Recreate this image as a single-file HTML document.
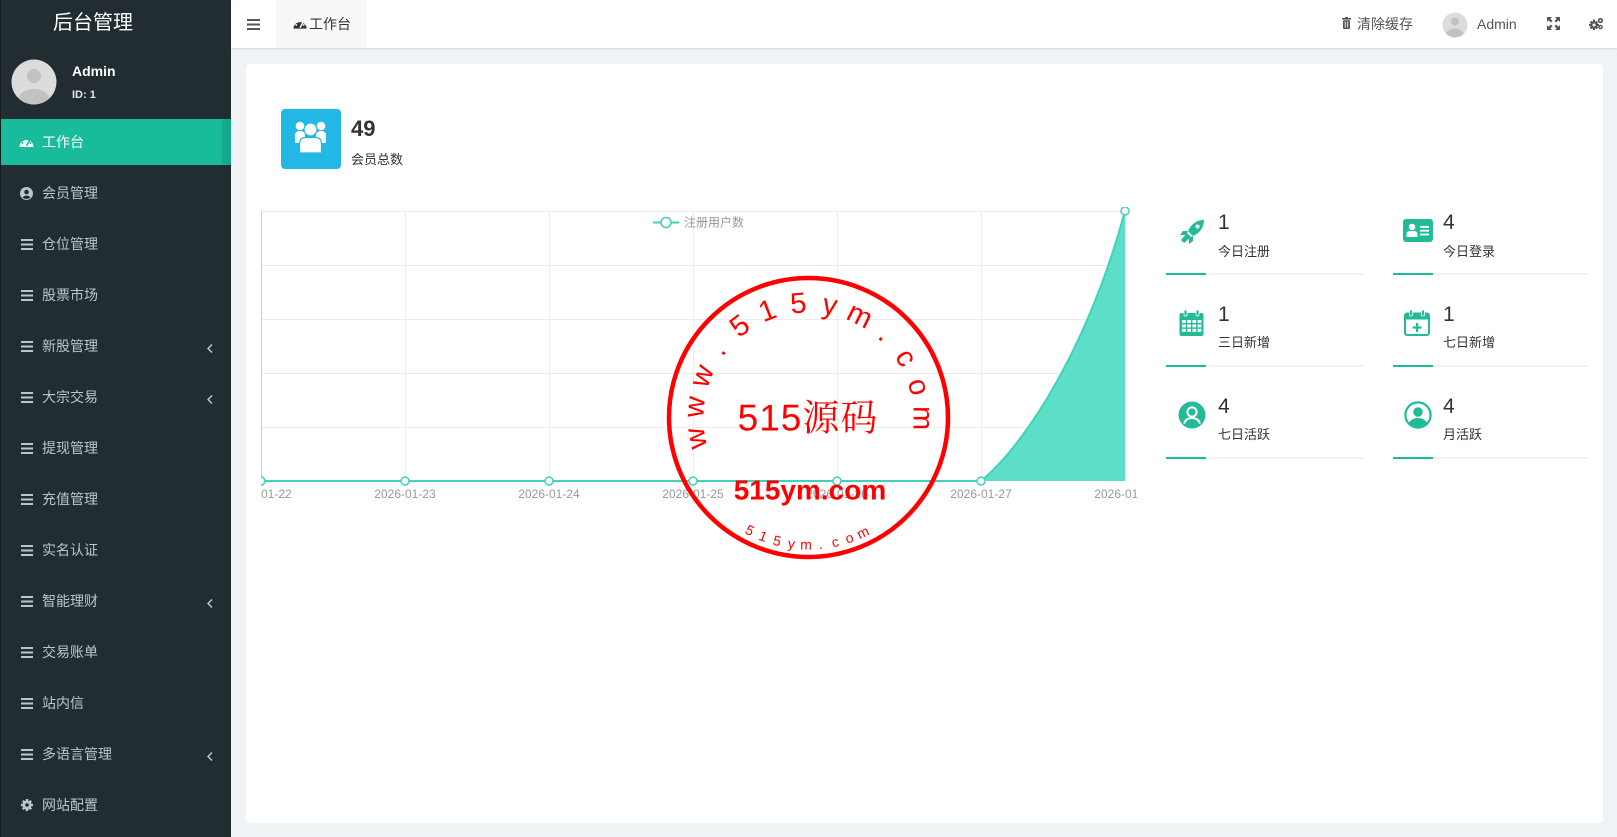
<!DOCTYPE html>
<html><head><meta charset="utf-8">
<style>
*{margin:0;padding:0;box-sizing:border-box}
body{width:1617px;height:837px;overflow:hidden;background:#f0f3f5;font-family:"Liberation Sans","Noto Sans CJK SC",sans-serif;position:relative}
.sb{position:absolute;left:0;top:0;width:231px;height:837px;background:#222d32;border-left:1px solid #161c20}
.logo{position:absolute;left:52px;top:10px;font-size:20px;color:#fff;line-height:26px;white-space:nowrap}
.uname{position:absolute;left:71px;top:62px;font-size:14px;font-weight:bold;color:#fff;line-height:18px}
.uid{position:absolute;left:71px;top:88px;font-size:11px;font-weight:bold;color:#e6e6e6;line-height:14px}
.mi{position:absolute;left:0;width:230px;height:46px;color:#b8c7ce;font-size:14px}
.mi span{position:absolute;left:41px;top:0;line-height:46px;white-space:nowrap}
.mi svg{position:absolute}
.act{background:#18bc9c;color:#fff}
.act .strip{position:absolute;left:221px;top:0;width:9px;height:46px;background:#17a98c}
.hd{position:absolute;left:231px;top:0;width:1386px;height:48px;background:#fff;box-shadow:0 1px 2px rgba(0,0,0,.13)}
.ab{position:absolute;white-space:nowrap}
.card{position:absolute;left:246px;top:64px;width:1357px;height:759px;background:#fff;border-radius:4px}
.num{position:absolute;font-size:21px;color:#333;line-height:24px}
.lbl{position:absolute;font-size:13px;color:#333;line-height:18px;white-space:nowrap}
.ul{position:absolute;height:2px;background:#f2f2f2}
.ul i{position:absolute;left:0;top:0;width:40px;height:2px;background:#1abc9c}
</style></head>
<body>
<div class="sb">
  <div class="logo">后台管理</div>
  <svg class="ab" style="left:10px;top:59px" width="46" height="46" viewBox="0 0 46 46">
    <defs><clipPath id="avc"><circle cx="23" cy="23" r="22.5"/></clipPath></defs>
    <circle cx="23" cy="23" r="22.5" fill="#dcdcdc"/>
    <g clip-path="url(#avc)"><circle cx="23" cy="17" r="7" fill="#c2c2c2"/><ellipse cx="23" cy="41" rx="16" ry="11" fill="#c2c2c2"/></g>
  </svg>
  <div class="uname">Admin</div>
  <div class="uid">ID: 1</div>

  <div class="mi act" style="top:119px">
    <svg style="left:18px;top:17px" width="15" height="12" viewBox="0 0 15 12"><path d="M0.5,11 A7,7 0 1 1 14.5,11 Z" fill="#fff"/><path d="M7.5,10 L10.5,4.5" stroke="#18bc9c" stroke-width="1.6"/><circle cx="3.5" cy="7" r="1" fill="#18bc9c"/><circle cx="4.5" cy="4" r="1" fill="#18bc9c"/><circle cx="7.5" cy="2.8" r="1" fill="#18bc9c"/><circle cx="11.5" cy="7" r="1" fill="#18bc9c"/></svg>
    <span>工作台</span><div class="strip"></div>
  </div>
  <div class="mi" style="top:170px">
    <svg style="left:19px;top:17px" width="13" height="13" viewBox="0 0 13 13"><circle cx="6.5" cy="6.5" r="6.5" fill="#b8c7ce"/><circle cx="6.5" cy="5" r="2.3" fill="#222d32"/><path d="M2.5,10.5 Q6.5,6.5 10.5,10.5 Q6.5,13.5 2.5,10.5Z" fill="#222d32"/></svg>
    <span>会员管理</span>
  </div>
  <div class="mi" style="top:221px"><svg style="left:20px;top:18px" width="12" height="11"><rect y="0" width="12" height="2" fill="#b8c7ce"/><rect y="4.5" width="12" height="2" fill="#b8c7ce"/><rect y="9" width="12" height="2" fill="#b8c7ce"/></svg><span>仓位管理</span></div>
  <div class="mi" style="top:272px"><svg style="left:20px;top:18px" width="12" height="11"><rect y="0" width="12" height="2" fill="#b8c7ce"/><rect y="4.5" width="12" height="2" fill="#b8c7ce"/><rect y="9" width="12" height="2" fill="#b8c7ce"/></svg><span>股票市场</span></div>
  <div class="mi" style="top:323px"><svg style="left:20px;top:18px" width="12" height="11"><rect y="0" width="12" height="2" fill="#b8c7ce"/><rect y="4.5" width="12" height="2" fill="#b8c7ce"/><rect y="9" width="12" height="2" fill="#b8c7ce"/></svg><span>新股管理</span><svg style="left:206px;top:21px" width="6" height="9"><polyline points="5,0.5 1,4.5 5,8.5" fill="none" stroke="#b8c7ce" stroke-width="1.5"/></svg></div>
  <div class="mi" style="top:374px"><svg style="left:20px;top:18px" width="12" height="11"><rect y="0" width="12" height="2" fill="#b8c7ce"/><rect y="4.5" width="12" height="2" fill="#b8c7ce"/><rect y="9" width="12" height="2" fill="#b8c7ce"/></svg><span>大宗交易</span><svg style="left:206px;top:21px" width="6" height="9"><polyline points="5,0.5 1,4.5 5,8.5" fill="none" stroke="#b8c7ce" stroke-width="1.5"/></svg></div>
  <div class="mi" style="top:425px"><svg style="left:20px;top:18px" width="12" height="11"><rect y="0" width="12" height="2" fill="#b8c7ce"/><rect y="4.5" width="12" height="2" fill="#b8c7ce"/><rect y="9" width="12" height="2" fill="#b8c7ce"/></svg><span>提现管理</span></div>
  <div class="mi" style="top:476px"><svg style="left:20px;top:18px" width="12" height="11"><rect y="0" width="12" height="2" fill="#b8c7ce"/><rect y="4.5" width="12" height="2" fill="#b8c7ce"/><rect y="9" width="12" height="2" fill="#b8c7ce"/></svg><span>充值管理</span></div>
  <div class="mi" style="top:527px"><svg style="left:20px;top:18px" width="12" height="11"><rect y="0" width="12" height="2" fill="#b8c7ce"/><rect y="4.5" width="12" height="2" fill="#b8c7ce"/><rect y="9" width="12" height="2" fill="#b8c7ce"/></svg><span>实名认证</span></div>
  <div class="mi" style="top:578px"><svg style="left:20px;top:18px" width="12" height="11"><rect y="0" width="12" height="2" fill="#b8c7ce"/><rect y="4.5" width="12" height="2" fill="#b8c7ce"/><rect y="9" width="12" height="2" fill="#b8c7ce"/></svg><span>智能理财</span><svg style="left:206px;top:21px" width="6" height="9"><polyline points="5,0.5 1,4.5 5,8.5" fill="none" stroke="#b8c7ce" stroke-width="1.5"/></svg></div>
  <div class="mi" style="top:629px"><svg style="left:20px;top:18px" width="12" height="11"><rect y="0" width="12" height="2" fill="#b8c7ce"/><rect y="4.5" width="12" height="2" fill="#b8c7ce"/><rect y="9" width="12" height="2" fill="#b8c7ce"/></svg><span>交易账单</span></div>
  <div class="mi" style="top:680px"><svg style="left:20px;top:18px" width="12" height="11"><rect y="0" width="12" height="2" fill="#b8c7ce"/><rect y="4.5" width="12" height="2" fill="#b8c7ce"/><rect y="9" width="12" height="2" fill="#b8c7ce"/></svg><span>站内信</span></div>
  <div class="mi" style="top:731px"><svg style="left:20px;top:18px" width="12" height="11"><rect y="0" width="12" height="2" fill="#b8c7ce"/><rect y="4.5" width="12" height="2" fill="#b8c7ce"/><rect y="9" width="12" height="2" fill="#b8c7ce"/></svg><span>多语言管理</span><svg style="left:206px;top:21px" width="6" height="9"><polyline points="5,0.5 1,4.5 5,8.5" fill="none" stroke="#b8c7ce" stroke-width="1.5"/></svg></div>
  <div class="mi" style="top:782px">
    <svg style="left:20px;top:17px" width="12" height="12" viewBox="0 0 12 12"><circle cx="6" cy="6" r="4.6" fill="#b8c7ce"/><g stroke="#b8c7ce" stroke-width="2.4"><line x1="6" y1="0" x2="6" y2="12"/><line x1="0" y1="6" x2="12" y2="6"/><line x1="1.8" y1="1.8" x2="10.2" y2="10.2"/><line x1="10.2" y1="1.8" x2="1.8" y2="10.2"/></g><circle cx="6" cy="6" r="1.8" fill="#222d32"/></svg>
    <span>网站配置</span>
  </div>
</div>

<div class="hd"></div>
<svg class="ab" style="left:247px;top:19px" width="13" height="11"><rect y="0" width="13" height="2" fill="#555"/><rect y="4.5" width="13" height="2" fill="#555"/><rect y="9" width="13" height="2" fill="#555"/></svg>
<div class="ab" style="left:276px;top:0;width:91px;height:48px;background:#f8f8f8"></div>
<svg class="ab" style="left:293px;top:18px" width="14" height="12" viewBox="0 0 15 12"><path d="M0.5,11 A7,7 0 1 1 14.5,11 Z" fill="#333"/><path d="M7.5,10 L10.5,4.5" stroke="#f8f8f8" stroke-width="1.6"/><circle cx="3.5" cy="7" r="1" fill="#f8f8f8"/><circle cx="4.5" cy="4" r="1" fill="#f8f8f8"/><circle cx="7.5" cy="2.8" r="1" fill="#f8f8f8"/><circle cx="11.5" cy="7" r="1" fill="#f8f8f8"/></svg>
<div class="ab" style="left:309px;top:15px;font-size:14px;color:#333;line-height:18px">工作台</div>

<svg class="ab" style="left:1342px;top:17px" width="9" height="12" viewBox="0 0 9 12"><rect x="0" y="1" width="9" height="1.6" fill="#555"/><rect x="3" y="0" width="3" height="1.5" fill="#555"/><rect x="1" y="3.2" width="7" height="8.8" rx="1" fill="#555"/><rect x="2.8" y="4.5" width="0.9" height="6" fill="#fff"/><rect x="5.3" y="4.5" width="0.9" height="6" fill="#fff"/></svg>
<div class="ab" style="left:1357px;top:15px;font-size:14px;color:#555;line-height:18px">清除缓存</div>
<svg class="ab" style="left:1442px;top:12px" width="26" height="26" viewBox="0 0 26 26"><defs><clipPath id="avc2"><circle cx="13" cy="13" r="12.5"/></clipPath></defs><circle cx="13" cy="13" r="12.5" fill="#dcdcdc"/><g clip-path="url(#avc2)"><circle cx="13" cy="9.5" r="4" fill="#c2c2c2"/><ellipse cx="13" cy="23" rx="9" ry="6.5" fill="#c2c2c2"/></g></svg>
<div class="ab" style="left:1477px;top:15px;font-size:14px;color:#555;line-height:18px">Admin</div>
<svg class="ab" style="left:1547px;top:17px" width="13" height="13" viewBox="0 0 13 13"><g fill="#555"><path d="M0,0 L5,0 L3.3,1.7 L5.5,3.9 L3.9,5.5 L1.7,3.3 L0,5Z"/><path d="M13,0 L8,0 L9.7,1.7 L7.5,3.9 L9.1,5.5 L11.3,3.3 L13,5Z"/><path d="M0,13 L5,13 L3.3,11.3 L5.5,9.1 L3.9,7.5 L1.7,9.7 L0,8Z"/><path d="M13,13 L8,13 L9.7,11.3 L7.5,9.1 L9.1,7.5 L11.3,9.7 L13,8Z"/></g></svg>
<svg class="ab" style="left:1589px;top:17px" width="15" height="13" viewBox="0 0 15 13"><g fill="#555"><circle cx="5" cy="8" r="3.8"/><g stroke="#555" stroke-width="2"><line x1="5" y1="2.5" x2="5" y2="13"/><line x1="0" y1="8" x2="10" y2="8"/><line x1="1.5" y1="4.5" x2="8.5" y2="11.5"/><line x1="8.5" y1="4.5" x2="1.5" y2="11.5"/></g><circle cx="11.5" cy="3.5" r="2.6"/><circle cx="11.5" cy="10" r="2.3"/></g><circle cx="5" cy="8" r="1.5" fill="#fff"/><circle cx="11.5" cy="3.5" r="1" fill="#fff"/><circle cx="11.5" cy="10" r="0.9" fill="#fff"/></svg>

<div class="card"></div>

<div class="ab" style="left:281px;top:109px;width:60px;height:60px;background:#23b7e5;border-radius:4px"></div>
<svg class="ab" style="left:281px;top:109px" width="60" height="60" viewBox="0 0 60 60">
  <g fill="#fff">
    <circle cx="19" cy="17" r="4.3"/><circle cx="40" cy="17" r="4.3"/>
    <path d="M14,34 L14,26 Q14,22 19,22 Q24,22 24,26 L24,34Z"/>
    <path d="M35,34 L35,26 Q35,22 40,22 Q45,22 45,26 L45,34Z"/>
  </g>
  <circle cx="29.5" cy="20.5" r="6.5" fill="#fff" stroke="#23b7e5" stroke-width="1.2"/>
  <path d="M18.5,44 L18.5,35 Q18.5,28.5 24.5,28.5 L34.5,28.5 Q40.5,28.5 40.5,35 L40.5,44 Z" fill="#fff" stroke="#23b7e5" stroke-width="1.2"/>
</svg>
<div class="ab" style="left:351px;top:116px;font-size:22px;font-weight:bold;color:#333;line-height:26px">49</div>
<div class="ab" style="left:351px;top:151px;font-size:13px;color:#333;line-height:18px">会员总数</div>

<svg class="ab" style="left:1180px;top:219px" width="25" height="25" viewBox="0 0 25 25">
  <g fill="#22bb98">
    <path d="M24,1 C17,1 11,5 8,12 L13,17 C20,14 24,8 24,1Z"/>
    <path d="M8,12 L3,12 L0,16 L6,16Z"/>
    <path d="M13,17 L13,22 L9,25 L9,19Z"/>
    <path d="M7,14 L11,18 L4,24 L1,21Z"/>
  </g>
  <circle cx="17.5" cy="7.5" r="2" fill="#fff"/>
</svg>
<div class="num" style="left:1218px;top:211px">1</div>
<div class="lbl" style="left:1218px;top:243px">今日注册</div>
<div class="ul" style="left:1166px;top:273px;width:197px"><i></i></div>

<svg class="ab" style="left:1403px;top:219px" width="30" height="23" viewBox="0 0 30 23">
  <rect x="0" y="0" width="30" height="23" rx="3" fill="#22bb98"/>
  <circle cx="9" cy="8" r="3.3" fill="#fff"/>
  <path d="M3.5,18 L3.5,15 Q3.5,12 7,12 L11,12 Q14.5,12 14.5,15 L14.5,18Z" fill="#fff"/>
  <rect x="17" y="7" width="9" height="1.8" fill="#fff"/><rect x="17" y="10.8" width="9" height="1.8" fill="#fff"/><rect x="17" y="14.6" width="9" height="1.8" fill="#fff"/>
</svg>
<div class="num" style="left:1443px;top:211px">4</div>
<div class="lbl" style="left:1443px;top:243px">今日登录</div>
<div class="ul" style="left:1393px;top:273px;width:196px"><i></i></div>

<svg class="ab" style="left:1179px;top:310px" width="25" height="26" viewBox="0 0 25 26">
  <rect x="0.5" y="3" width="24" height="23" rx="2" fill="#22bb98"/>
  <rect x="5" y="0" width="3" height="6" rx="1" fill="#22bb98" stroke="#fff" stroke-width="0.8"/>
  <rect x="17" y="0" width="3" height="6" rx="1" fill="#22bb98" stroke="#fff" stroke-width="0.8"/>
  <g fill="#fff">
    <rect x="3" y="10" width="3.8" height="3"/><rect x="8.2" y="10" width="3.8" height="3"/><rect x="13.4" y="10" width="3.8" height="3"/><rect x="18.6" y="10" width="3.8" height="3"/>
    <rect x="3" y="14.4" width="3.8" height="3"/><rect x="8.2" y="14.4" width="3.8" height="3"/><rect x="13.4" y="14.4" width="3.8" height="3"/><rect x="18.6" y="14.4" width="3.8" height="3"/>
    <rect x="3" y="18.8" width="3.8" height="3"/><rect x="8.2" y="18.8" width="3.8" height="3"/><rect x="13.4" y="18.8" width="3.8" height="3"/><rect x="18.6" y="18.8" width="3.8" height="3"/>
  </g>
</svg>
<div class="num" style="left:1218px;top:303px">1</div>
<div class="lbl" style="left:1218px;top:334px">三日新增</div>
<div class="ul" style="left:1166px;top:365px;width:197px"><i></i></div>

<svg class="ab" style="left:1404px;top:310px" width="26" height="26" viewBox="0 0 26 26">
  <rect x="1" y="3.5" width="24" height="21.5" rx="2" fill="none" stroke="#22bb98" stroke-width="2"/>
  <rect x="1" y="3.5" width="24" height="6" fill="#22bb98"/>
  <rect x="5.5" y="0" width="3" height="6" rx="1" fill="#22bb98" stroke="#fff" stroke-width="0.8"/>
  <rect x="17.5" y="0" width="3" height="6" rx="1" fill="#22bb98" stroke="#fff" stroke-width="0.8"/>
  <rect x="12" y="13" width="2.2" height="9" fill="#22bb98"/><rect x="8.6" y="16.4" width="9" height="2.2" fill="#22bb98"/>
</svg>
<div class="num" style="left:1443px;top:303px">1</div>
<div class="lbl" style="left:1443px;top:334px">七日新增</div>
<div class="ul" style="left:1393px;top:365px;width:196px"><i></i></div>

<svg class="ab" style="left:1178px;top:401px" width="28" height="28" viewBox="0 0 28 28">
  <circle cx="14" cy="14" r="13.5" fill="#22bb98"/>
  <circle cx="14" cy="11" r="4.6" fill="none" stroke="#fff" stroke-width="2"/>
  <path d="M6,22.5 Q8,17 14,17 Q20,17 22,22.5" fill="none" stroke="#fff" stroke-width="2"/>
</svg>
<div class="num" style="left:1218px;top:395px">4</div>
<div class="lbl" style="left:1218px;top:426px">七日活跃</div>
<div class="ul" style="left:1166px;top:457px;width:197px"><i></i></div>

<svg class="ab" style="left:1404px;top:401px" width="28" height="28" viewBox="0 0 28 28">
  <defs><clipPath id="uc"><circle cx="14" cy="14" r="12"/></clipPath></defs>
  <circle cx="14" cy="14" r="12.6" fill="none" stroke="#22bb98" stroke-width="2.2"/>
  <g clip-path="url(#uc)" fill="#22bb98"><circle cx="14" cy="11" r="4.8"/><ellipse cx="14" cy="25" rx="10" ry="8"/></g>
</svg>
<div class="num" style="left:1443px;top:395px">4</div>
<div class="lbl" style="left:1443px;top:426px">月活跃</div>
<div class="ul" style="left:1393px;top:457px;width:196px"><i></i></div>

<svg class="ab" style="left:0;top:0" width="1617" height="837" viewBox="0 0 1617 837">
  <defs><clipPath id="cc"><rect x="261" y="207" width="876" height="310"/></clipPath></defs>
  <g clip-path="url(#cc)">
    <g stroke="#ececec" stroke-width="1">
      <line x1="261" y1="211.5" x2="1126" y2="211.5"/>
      <line x1="261" y1="265.5" x2="1126" y2="265.5"/>
      <line x1="261" y1="319.5" x2="1126" y2="319.5"/>
      <line x1="261" y1="373.5" x2="1126" y2="373.5"/>
      <line x1="261" y1="427.5" x2="1126" y2="427.5"/>
      <line x1="405.5" y1="211" x2="405.5" y2="481"/>
      <line x1="549.5" y1="211" x2="549.5" y2="481"/>
      <line x1="693.5" y1="211" x2="693.5" y2="481"/>
      <line x1="837.5" y1="211" x2="837.5" y2="481"/>
      <line x1="981.5" y1="211" x2="981.5" y2="481"/>
      <line x1="1125.5" y1="211" x2="1125.5" y2="481"/>
    </g>
    <line x1="261.5" y1="211" x2="261.5" y2="481" stroke="#ccc"/>
    <path d="M981,481 C1030,440 1090,340 1125,211 L1125,481 Z" fill="#5cdec8"/>
    <path d="M261,481 L981,481 C1030,440 1090,340 1125,211" fill="none" stroke="#42d2b8" stroke-width="2"/>
    <g fill="#fff" stroke="#42d2b8" stroke-width="1.5">
      <circle cx="261" cy="481" r="4"/><circle cx="405" cy="481" r="4"/><circle cx="549" cy="481" r="4"/><circle cx="693" cy="481" r="4"/><circle cx="837" cy="481" r="4"/><circle cx="981" cy="481" r="4"/><circle cx="1125" cy="211" r="4"/>
    </g>
    <g font-family="Liberation Sans, sans-serif" font-size="12" fill="#999" text-anchor="middle">
      <text x="261" y="498">2026-01-22</text>
      <text x="405" y="498">2026-01-23</text>
      <text x="549" y="498">2026-01-24</text>
      <text x="693" y="498">2026-01-25</text>
      <text x="837" y="498">2026-01-26</text>
      <text x="981" y="498">2026-01-27</text>
      <text x="1125" y="498">2026-01-28</text>
    </g>
  </g>
  <line x1="653" y1="222.5" x2="679" y2="222.5" stroke="#42d2b8" stroke-width="2"/>
  <circle cx="666" cy="222.5" r="5" fill="#fff" stroke="#42d2b8" stroke-width="1.5"/>
  <text x="684" y="226.5" font-family="Liberation Sans, Noto Sans CJK SC, sans-serif" font-size="12" fill="#999">注册用户数</text>

  <g fill="#ff0000">
    <circle cx="808.5" cy="417.5" r="139.5" fill="none" stroke="#ff0000" stroke-width="4.5"/>
    <g font-family="Liberation Sans, sans-serif" font-size="29" text-anchor="middle" dominant-baseline="central">
      <text transform="translate(696.4,438.3) rotate(-100.5)">w</text>
      <text transform="translate(695.0,406.8) rotate(-84.6)">w</text>
      <text transform="translate(702.3,376.1) rotate(-68.7)">w</text>
      <text transform="translate(717.7,348.6) rotate(-52.8)">.</text>
      <text transform="translate(740.1,326.3) rotate(-36.9)">5</text>
      <text transform="translate(767.6,311.1) rotate(-21.0)">1</text>
      <text transform="translate(798.4,304.0) rotate(-5.1)">5</text>
      <text transform="translate(829.9,305.5) rotate(10.8)">y</text>
      <text transform="translate(859.7,315.7) rotate(26.7)">m</text>
      <text transform="translate(885.7,333.6) rotate(42.6)">.</text>
      <text transform="translate(905.7,357.9) rotate(58.5)">c</text>
      <text transform="translate(918.3,386.8) rotate(74.4)">o</text>
      <text transform="translate(922.5,418.1) rotate(90.3)">m</text>
    </g>
    <text x="808" y="418" font-family="Liberation Sans, Noto Serif CJK SC, serif" font-size="37" text-anchor="middle" dominant-baseline="central" letter-spacing="1">515源码</text>
    <text x="810" y="490" font-family="Liberation Sans, sans-serif" font-size="28" font-weight="bold" text-anchor="middle" dominant-baseline="central">515ym.com</text>
    <g font-family="Liberation Sans, sans-serif" font-size="14" text-anchor="middle" dominant-baseline="central">
      <text transform="translate(749.9,530.1) rotate(27.5)">5</text>
      <text transform="translate(763.2,536.1) rotate(20.9)">1</text>
      <text transform="translate(777.1,540.6) rotate(14.3)">5</text>
      <text transform="translate(791.5,543.4) rotate(7.7)">y</text>
      <text transform="translate(806.1,544.5) rotate(1.1)">m</text>
      <text transform="translate(820.7,543.9) rotate(-5.5)">.</text>
      <text transform="translate(835.1,541.7) rotate(-12.1)">c</text>
      <text transform="translate(849.2,537.8) rotate(-18.7)">o</text>
      <text transform="translate(862.8,532.3) rotate(-25.3)">m</text>
    </g>
  </g>
</svg>
</body></html>
